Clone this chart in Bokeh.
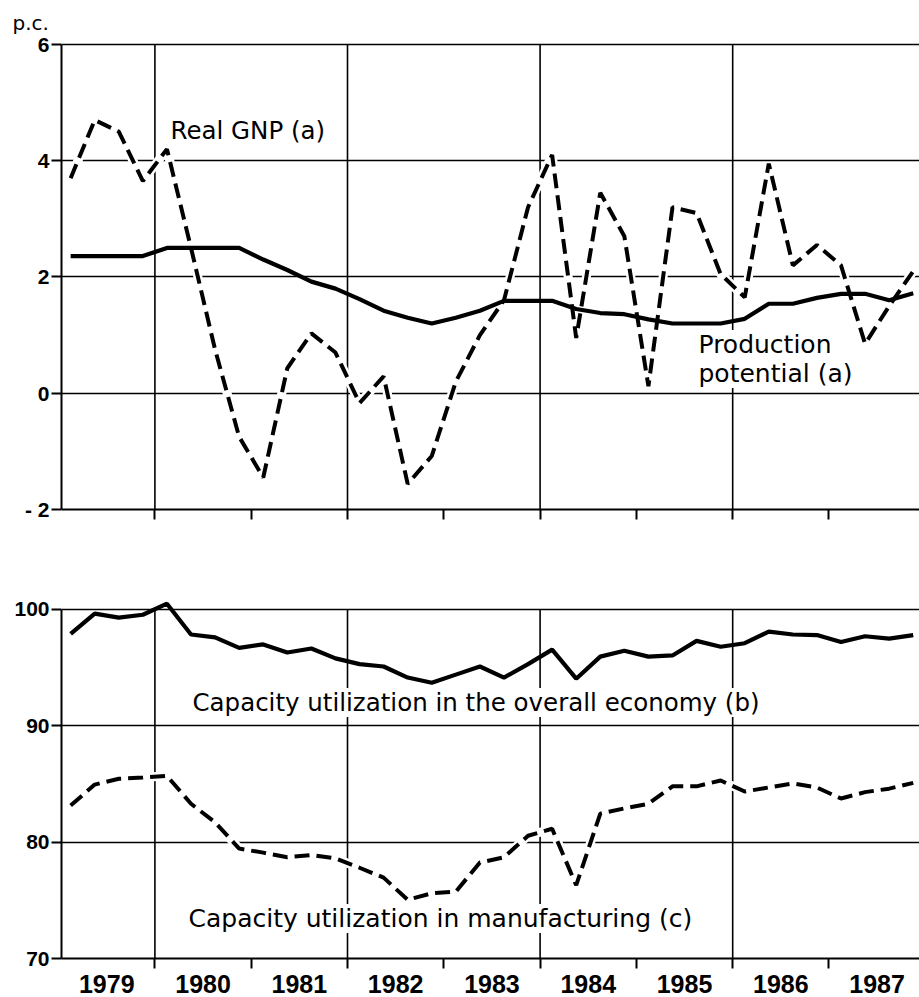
from bokeh.plotting import figure
from bokeh.models import Range1d, FixedTicker, Label
from bokeh.layouts import column
from bokeh.embed import file_html
from bokeh.resources import INLINE

# ---------------- data ----------------
years = [1979, 1980, 1981, 1982, 1983, 1984, 1985, 1986, 1987]
quarters = [1, 2, 3, 4]
year_labels = ["1979", "1980", "1981", "1982", "1983", "1984", "1985", "1986", "1987"]
grid_years = [1980, 1982, 1984, 1986]
year_bounds = [1979, 1980, 1981, 1982, 1983, 1984, 1985, 1986, 1987, 1988]

real_gnp = [3.7, 4.7, 4.5, 3.65, 4.2, 2.5, 0.75, -0.75, -1.45, 0.43, 1.03, 0.7,
            -0.17, 0.29, -1.56, -1.08, 0.2, 1.0, 1.6, 3.2, 4.1, 0.95, 3.45, 2.7,
            0.12, 3.2, 3.1, 2.05, 1.65, 3.95, 2.2, 2.55, 2.2, 0.85, 1.5, 2.1]
production_potential = [2.36, 2.36, 2.36, 2.36, 2.5, 2.5, 2.5, 2.5, 2.3, 2.12, 1.92, 1.8,
                        1.62, 1.42, 1.3, 1.2, 1.3, 1.42, 1.59, 1.59, 1.59, 1.45, 1.38, 1.36,
                        1.27, 1.2, 1.2, 1.2, 1.28, 1.54, 1.54, 1.64, 1.71, 1.71, 1.6, 1.72]
cap_overall = [97.9, 99.65, 99.3, 99.55, 100.5, 97.85, 97.6, 96.7, 97.0, 96.3, 96.65, 95.8,
               95.3, 95.1, 94.15, 93.7, 94.4, 95.1, 94.15, 95.3, 96.55, 94.05, 95.95, 96.45,
               95.95, 96.05, 97.3, 96.8, 97.1, 98.1, 97.85, 97.8, 97.2, 97.7, 97.5, 97.8]
cap_manuf = [83.15, 84.95, 85.45, 85.55, 85.7, 83.3, 81.7, 79.45, 79.1, 78.7, 78.9, 78.6,
             77.8, 76.95, 75.05, 75.6, 75.75, 78.25, 78.7, 80.55, 81.15, 76.3, 82.45, 82.9,
             83.3, 84.8, 84.8, 85.3, 84.35, 84.7, 85.05, 84.7, 83.75, 84.3, 84.6, 85.1]

top_ticks = [-2, 0, 2, 4, 6]
top_tick_labels = ["- 2", "0", "2", "4", "6"]
bot_ticks = [70, 80, 90, 100]
bot_tick_labels = ["70", "80", "90", "100"]

# quarterly x positions (quarter midpoints)
xq = [y + (q - 0.5) / 4 for y in years for q in quarters]

TEXT_FONT = "DejaVu Sans"
TICK_FONT = "Liberation Sans"
YEAR_FONT = "Liberation Sans"

W = 919
x_range = Range1d(1979.03, 1987.94)


def make_fig(height, y_range, top, bottom, yticks, ylabels, axis_bounds, xlabels):
    p = figure(width=W, height=height, x_range=x_range, y_range=y_range,
               output_backend="svg", toolbar_location=None,
               min_border_left=61, min_border_right=0,
               min_border_top=top, min_border_bottom=bottom)
    p.outline_line_color = None
    p.background_fill_color = "white"
    p.border_fill_color = "white"
    p.xgrid.visible = False
    p.ygrid.ticker = FixedTicker(ticks=yticks)
    p.ygrid.grid_line_color = "black"
    p.ygrid.grid_line_width = 1.6

    ya = p.yaxis[0]
    ya.ticker = FixedTicker(ticks=yticks)
    ya.major_label_overrides = {t: l for t, l in zip(yticks, ylabels)}
    ya.bounds = axis_bounds
    ya.axis_line_width = 2
    ya.axis_line_color = "black"
    ya.major_tick_out = 10
    ya.major_tick_in = 0
    ya.major_tick_line_width = 2
    ya.minor_tick_line_color = None
    ya.major_label_standoff = 2
    ya.major_label_text_font = TICK_FONT
    ya.major_label_text_font_style = "bold"
    ya.major_label_text_font_size = "21px"
    ya.major_label_text_color = "black"

    xa = p.xaxis[0]
    centers = [y + 0.5 for y in years]
    xa.ticker = FixedTicker(ticks=centers, minor_ticks=year_bounds)
    xa.major_label_overrides = {c: l for c, l in zip(centers, xlabels)}
    xa.major_tick_out = 0
    xa.major_tick_in = 0
    xa.minor_tick_out = 10
    xa.minor_tick_in = 0
    xa.minor_tick_line_width = 2
    xa.minor_tick_line_color = "black"
    xa.axis_line_width = 2
    xa.axis_line_color = "black"
    xa.major_label_text_font = YEAR_FONT
    xa.major_label_text_font_style = "bold"
    xa.major_label_text_font_size = "25px"
    xa.major_label_text_color = "black"
    xa.major_label_standoff = 6
    return p


# ---------------- top panel ----------------
p1 = make_fig(560, Range1d(-2, 6.034), 40, 51, top_ticks, top_tick_labels, (-2, 6),
              [""] * len(years))
p1.title.text = "p.c."
p1.title.align = "left"
p1.title.offset = -49
p1.title.standoff = 16
p1.title.text_font = TEXT_FONT
p1.title.text_font_style = "normal"
p1.title.text_font_size = "20px"
p1.title.text_color = "black"

p1.segment(x0=grid_years, y0=[top_ticks[0]] * len(grid_years), x1=grid_years,
           y1=[top_ticks[-1]] * len(grid_years), line_color="black", line_width=1.6)
p1.line(xq, real_gnp, line_color="white", line_width=9)
p1.line(xq, real_gnp, line_color="black", line_width=4, line_dash="15 7")
p1.line(xq, production_potential, line_color="black", line_width=4.2)

p1.add_layout(Label(x=1980.162, y=4.52, text="Real GNP (a)", text_font=TEXT_FONT,
                    text_font_size="24.5px", text_align="left", text_baseline="middle",
                    text_color="black", background_fill_color="white"))
p1.add_layout(Label(x=1985.645, y=0.84, text="Production", text_font=TEXT_FONT,
                    text_font_size="25px", text_align="left", text_baseline="middle",
                    text_color="black", background_fill_color="white"))
p1.add_layout(Label(x=1985.645, y=0.34, text="potential (a)", text_font=TEXT_FONT,
                    text_font_size="25px", text_align="left", text_baseline="middle",
                    text_color="black", background_fill_color="white"))

# ---------------- bottom panel ----------------
p2 = make_fig(437, Range1d(70, 101.46), 32, 39, bot_ticks, bot_tick_labels, (70, 100),
              year_labels)
p2.segment(x0=grid_years, y0=[bot_ticks[0]] * len(grid_years), x1=grid_years,
           y1=[bot_ticks[-1]] * len(grid_years), line_color="black", line_width=1.6)
p2.line(xq, cap_manuf, line_color="white", line_width=9)
p2.line(xq, cap_manuf, line_color="black", line_width=4, line_dash="15 7")
p2.line(xq, cap_overall, line_color="black", line_width=4.2)

p2.add_layout(Label(x=1980.39, y=92.0, text="Capacity utilization in the overall economy (b)",
                    text_font=TEXT_FONT, text_font_size="24.5px", text_align="left",
                    text_baseline="middle", text_color="black", background_fill_color="white"))
p2.add_layout(Label(x=1980.349, y=73.43, text="Capacity utilization in manufacturing (c)",
                    text_font=TEXT_FONT, text_font_size="25px", text_align="left",
                    text_baseline="middle", text_color="black", background_fill_color="white"))

layout = column(p1, p2, spacing=0)
open("out.html", "w").write(file_html(layout, INLINE))
